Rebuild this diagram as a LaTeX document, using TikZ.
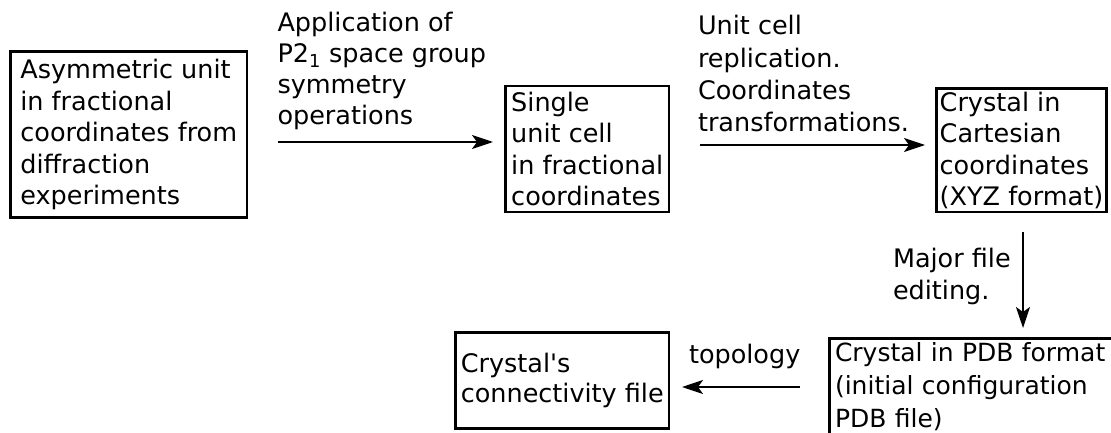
\documentclass[tikz,border=0pt]{standalone}
\usepackage{fontspec}
\setmainfont{DejaVu Sans}
\usetikzlibrary{arrows.meta}
\begin{document}
\begin{tikzpicture}[x=1pt,y=1pt,
  box/.style={draw, line width=2.6pt, rectangle, align=left, inner sep=0pt, outer sep=0pt, font=\fontsize{25.5}{31.5}\selectfont},
  lbl/.style={align=left, inner sep=0pt, outer sep=0pt, font=\fontsize{25.5}{31.5}\selectfont},
  arr/.style={-{Stealth[length=21pt,width=14pt,inset=5pt]}, line width=1.8pt}]
\useasboundingbox (0,0) rectangle (1111,432);
\clip (0,0) rectangle (1111,432);
\node[box, minimum width=236.5pt, minimum height=166pt] (b1) at (128.75,297.5)
  {Asymmetric unit\\in fractional\\coordinates from\\diffraction\\experiments};
\node[box, minimum width=163.5pt, minimum height=126pt] (b2) at (587.25,283)
  {Single\\unit cell\\in fractional\\coordinates};
\node[box, minimum width=170pt, minimum height=123.5pt] (b3) at (1021.5,281.75)
  {Crystal in\\Cartesian\\coordinates\\(XYZ format)};
\node[box, inner xsep=5.5pt, text width=289pt, minimum height=97pt, font=\fontsize{25}{33}\selectfont] (b4) at (979.5,45)
  {Crystal in PDB format\\(initial configuration\\PDB file)};
\node[box, minimum width=213.5pt, minimum height=96pt, font=\fontsize{25.5}{30}\selectfont] (b5) at (562.25,51.5)
  {Crystal\textquotesingle s\\connectivity file};
\node[lbl, anchor=north west, font=\fontsize{25.5}{31}\selectfont] (l1) at (277.5,419.4)
  {Application of\\P2\textsubscript{1} space group\\symmetry\\operations};
\node[lbl, anchor=north west, font=\fontsize{25.5}{32.3}\selectfont] (l2) at (698,416.4)
  {Unit cell\\replication.\\Coordinates\\transformations.};
\node[lbl, anchor=north west, font=\fontsize{25.5}{32}\selectfont] (l3) at (893,183.4)
  {Major file\\editing.};
\node[lbl, anchor=base west] (l4) at (689,69) {topology};
\coordinate (a1) at (0,290);
\coordinate (a2) at (0,287);
\coordinate (a3) at (1023,0);
\coordinate (a4) at (0,45);
\draw[arr, shorten <=31pt, shorten >=12.5pt] (b1.east |- a1) -- (b2.west |- a1);
\draw[arr, shorten <=31pt, shorten >=11.5pt] (b2.east |- a2) -- (b3.west |- a2);
\draw[arr, shorten <=20pt, shorten >=10.5pt] (a3 |- b3.south) -- (a3 |- b4.north);
\draw[arr, shorten <=29.5pt, shorten >=13pt] (b4.west |- a4) -- (b5.east |- a4);
\end{tikzpicture}
\end{document}
